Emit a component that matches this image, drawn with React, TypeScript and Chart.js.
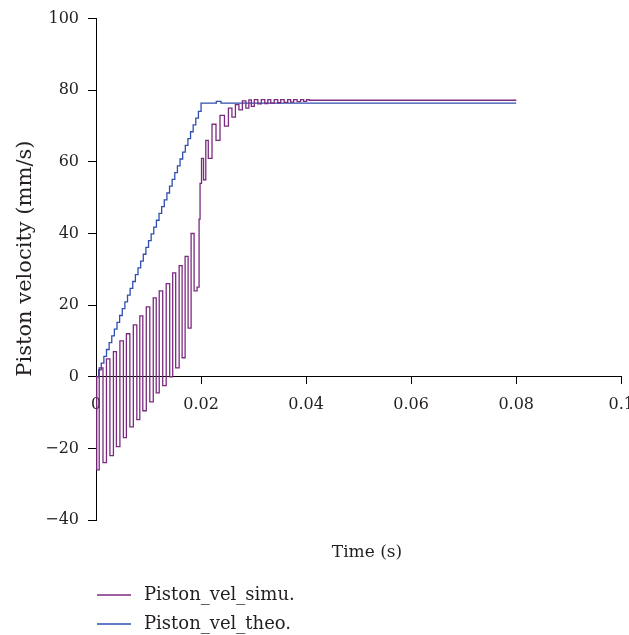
import React, { useEffect, useRef } from "react";
import { Chart, registerables } from "chart.js";

Chart.register(...registerables);

// Theoretical piston velocity (stair-stepped ramp), time in s, velocity in mm/s
const theoT = [
  0, 0.0005, 0.001, 0.0015, 0.002, 0.0025, 0.003, 0.0035, 0.004, 0.0045,
  0.005, 0.0055, 0.006, 0.0065, 0.007, 0.0075, 0.008, 0.0085, 0.009, 0.0095,
  0.01, 0.0105, 0.011, 0.0115, 0.012, 0.0125, 0.013, 0.0135, 0.014, 0.0145,
  0.015, 0.0155, 0.016, 0.0165, 0.017, 0.0175, 0.018, 0.0185, 0.019, 0.0195,
  0.02, 0.0229, 0.0238, 0.08,
];
const theoV = [
  0, 1.9, 3.8, 5.7, 7.6, 9.5, 11.4, 13.3, 15.2, 17.1,
  19, 20.9, 22.8, 24.7, 26.6, 28.5, 30.4, 32.3, 34.2, 36.1,
  38, 39.9, 41.8, 43.7, 45.6, 47.5, 49.4, 51.3, 53.2, 55.1,
  57, 58.9, 60.8, 62.7, 64.6, 66.5, 68.4, 70.3, 72.2, 74.1,
  76.4, 76.9, 76.4, 76.4,
];

// Simulated piston velocity
const simuT = [
  0, 0.00028, 0.00095, 0.00171, 0.00227, 0.00303, 0.0036, 0.00417, 0.00493, 0.0055,
  0.00607, 0.00682, 0.00739, 0.00815, 0.00853, 0.00929, 0.00986, 0.01062, 0.01118, 0.01175,
  0.01232, 0.01308, 0.01365, 0.01441, 0.01479, 0.01555, 0.01611, 0.01668, 0.01725, 0.01782,
  0.01839, 0.01896, 0.01953, 0.01972, 0.0199, 0.02028, 0.02066, 0.02114, 0.02161, 0.02256,
  0.02313, 0.02408, 0.02483, 0.02559, 0.02616, 0.02692, 0.02749, 0.02825, 0.02882, 0.02938,
  0.02976, 0.03052, 0.03109, 0.03185, 0.03242, 0.03299, 0.03355, 0.03431, 0.03488, 0.03545,
  0.03621, 0.03678, 0.03735, 0.03791, 0.03867, 0.03924, 0.03981, 0.04038, 0.04076, 0.08,
];
const simuV = [
  0, -26, 2.5, -24, 5, -22, 7, -19.5, 10, -17,
  12, -14, 14.5, -12, 17, -9.5, 19.5, -7, 22, -4.5,
  24, -2.5, 26, 0, 29, 2.5, 31, 5.3, 33.6, 13.6,
  40, 24, 25, 44, 54, 61, 55, 66, 61, 70.5,
  66, 73, 70, 75, 72.5, 76, 74.5, 77, 75, 77.3,
  75.5, 77.4, 76.2, 77.4, 76.3, 77.4, 76.4, 77.4, 76.5, 77.4,
  76.6, 77.4, 76.7, 77.4, 76.8, 77.4, 76.9, 77.4, 77.2, 77.2,
];

const xTicks = [0, 0.02, 0.04, 0.06, 0.08, 0.1];
const yTicks = [-40, -20, 0, 20, 40, 60, 80, 100];

const seriesNames = ["Piston_vel_simu.", "Piston_vel_theo."];
const seriesColors = ["#7b2a80", "#2f4fae"];
const xTitle = "Time (s)";
const yTitle = "Piston velocity (mm/s)";

const FONT = '"DejaVu Serif", serif';
const TEXT = "#231f20";

const overlayPlugin = {
  id: "overlay",
  afterDraw(chart: any) {
    const { ctx, chartArea } = chart;
    ctx.save();
    ctx.fillStyle = TEXT;
    ctx.textBaseline = "middle";
    // y-axis title
    ctx.save();
    ctx.font = `21px ${FONT}`;
    ctx.textAlign = "center";
    ctx.translate(chartArea.left - 70, chartArea.top + 240);
    ctx.rotate(-Math.PI / 2);
    ctx.fillText(yTitle, 0, 0);
    ctx.restore();
    // x-axis title
    ctx.font = `17px ${FONT}`;
    ctx.textAlign = "center";
    ctx.fillText(xTitle, chartArea.left + 271, chartArea.bottom + 33);
    // legend
    ctx.textAlign = "left";
    ctx.font = `18px ${FONT}`;
    seriesNames.forEach((name, i) => {
      const y = chartArea.bottom + 75 + i * 29;
      ctx.strokeStyle = seriesColors[i];
      ctx.lineWidth = 1.3;
      ctx.beginPath();
      ctx.moveTo(chartArea.left + 1, y);
      ctx.lineTo(chartArea.left + 35, y);
      ctx.stroke();
      ctx.fillText(name, chartArea.left + 48, y);
    });
    ctx.restore();
  },
};

export default function App() {
  const ref = useRef<HTMLCanvasElement | null>(null);
  useEffect(() => {
    document.body.style.margin = "0";
    const canvas = ref.current!;
    const chart = new Chart(canvas, {
      type: "line",
      data: {
        datasets: [
          {
            label: seriesNames[0],
            data: simuT.map((t, i) => ({ x: t, y: simuV[i] })),
            borderColor: seriesColors[0],
            borderWidth: 1.3,
            pointRadius: 0,
            stepped: "middle",
            fill: false,
          },
          {
            label: seriesNames[1],
            data: theoT.map((t, i) => ({ x: t, y: theoV[i] })),
            borderColor: seriesColors[1],
            borderWidth: 1.3,
            pointRadius: 0,
            stepped: "before",
            fill: false,
          },
        ],
      },
      options: {
        responsive: false,
        animation: false,
        layout: { padding: { top: 15, right: 23, bottom: 115, left: 0 } },
        plugins: { legend: { display: false }, tooltip: { enabled: false } },
        scales: {
          x: {
            type: "linear",
            position: { y: 0 },
            min: 0,
            max: 0.1,
            afterBuildTicks: (s: any) => {
              s.ticks = xTicks.map((v) => ({ value: v }));
            },
            ticks: {
              color: TEXT,
              font: { family: FONT, size: 16 },
              padding: 12,
              maxRotation: 0,
              autoSkip: false,
              callback: (v: any) => String(Number(Number(v).toFixed(2))),
            },
            grid: { drawOnChartArea: false, drawTicks: true, tickLength: 7, color: "#000", lineWidth: 1 },
            border: { display: true, color: "#000", width: 1 },
          },
          y: {
            type: "linear",
            position: "left",
            min: -40,
            max: 100,
            afterBuildTicks: (s: any) => {
              s.ticks = yTicks.map((v) => ({ value: v }));
            },
            afterFit: (s: any) => {
              s.width = 96;
            },
            ticks: {
              color: TEXT,
              font: { family: FONT, size: 16 },
              padding: 9,
              autoSkip: false,
              callback: (v: any) => (Number(v) < 0 ? "\u2212" + Math.abs(Number(v)) : String(v)),
            },
            grid: { drawOnChartArea: false, drawTicks: true, tickLength: 8, color: "#000", lineWidth: 1 },
            border: { display: true, color: "#000", width: 1 },
          },
        },
      },
      plugins: [overlayPlugin],
    });
    return () => chart.destroy();
  }, []);
  return (
    <div style={{ position: "absolute", left: 0, top: 0, width: 629, height: 635, overflow: "hidden", background: "#fff" }}>
      <canvas ref={ref} width={646} height={635} style={{ display: "block" }} />
    </div>
  );
}
